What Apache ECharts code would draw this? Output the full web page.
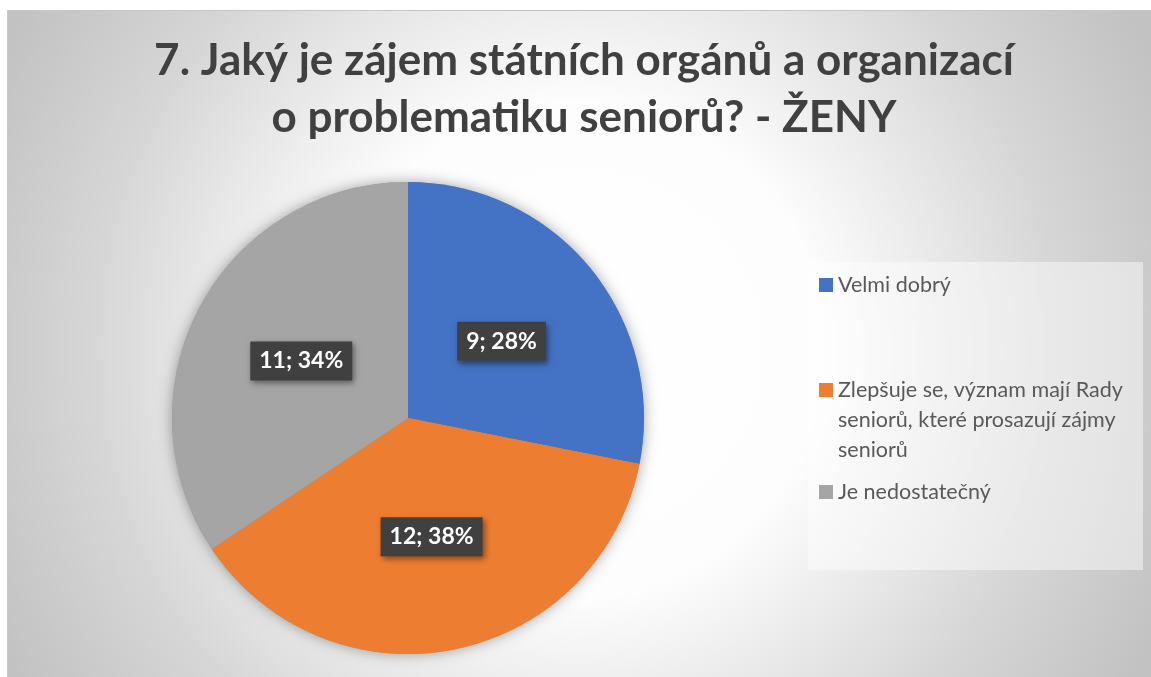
<!DOCTYPE html>
<html>
<head>
<meta charset="utf-8">
<script src="https://cdn.jsdelivr.net/npm/echarts@6/dist/echarts.min.js"></script>
<style>
  html, body { margin: 0; padding: 0; background: #ffffff; }
  #chart { width: 1151px; height: 677px; }
</style>
</head>
<body>
<div id="chart"></div>
<script>
// Survey answers (women): question 7
const categories = [
  'Velmi dobrý',
  'Zlepšuje se, význam mají Rady seniorů, které prosazují zájmy seniorů',
  'Je nedostatečný'
];
const counts = [9, 12, 11];
// Two leading blank lines keep the icon level with the first text line
const legendLabels = [
  'Velmi dobrý',
  '\n\nZlepšuje se, význam mají Rady\nseniorů, které prosazují zájmy\nseniorů',
  'Je nedostatečný'
];
const colors = ['#4472C4', '#ED7D31', '#A5A5A5'];
const titleText = '7. Jaký je zájem státních orgánů a organizací\no problematiku seniorů? - ŽENY';

const FONT = 'Lato, "Open Sans", sans-serif';
const pieData = categories.map((name, i) => ({ name, value: counts[i], itemStyle: { color: colors[i] } }));

const legendTops = [270, 315, 477];
const legends = categories.map((name, i) => ({
  data: [name],
  orient: 'vertical',
  left: 819,
  top: legendTops[i],
  padding: 0,
  icon: 'rect',
  itemWidth: 14,
  itemHeight: 14,
  selectedMode: false,
  formatter: () => legendLabels[i],
  textStyle: {
    fontFamily: FONT,
    fontSize: 21.5,
    color: '#595959',
    lineHeight: 30
  }
}));

const chart = echarts.init(document.getElementById('chart'), null, { renderer: 'canvas' });
chart.setOption({
  animation: false,
  backgroundColor: '#ffffff',
  graphic: [
    {
      type: 'rect',
      z: -10,
      silent: true,
      shape: { x: 7.5, y: 10.5, width: 1160, height: 680 },
      style: {
        fill: {
          type: 'radial', x: 0.49, y: 0.5, r: 0.95,
          colorStops: [
            { offset: 0, color: '#ffffff' },
            { offset: 0.38, color: '#fdfdfd' },
            { offset: 0.75, color: '#d6d6d6' },
            { offset: 1, color: '#c2c2c2' }
          ]
        },
        stroke: '#c6c6c6',
        lineWidth: 1
      }
    },
    {
      type: 'rect',
      z: -5,
      silent: true,
      shape: { x: 808, y: 262, width: 335, height: 308 },
      style: { fill: 'rgba(255,255,255,0.45)' }
    }
  ],
  title: {
    text: titleText,
    left: 584,
    top: 32,
    padding: 0,
    textAlign: 'center',
    textStyle: {
      fontFamily: FONT,
      fontWeight: 'bold',
      fontSize: 44,
      lineHeight: 57,
      color: '#404040'
    }
  },
  legend: legends,
  series: [
    {
      type: 'pie',
      name: 'ŽENY',
      center: [408, 418],
      radius: 236,
      startAngle: 90,
      clockwise: true,
      percentPrecision: 0,
      z: 3,
      silent: true,
      data: pieData,
      itemStyle: { borderWidth: 0 },
      labelLine: { show: false },
      label: {
        show: true,
        position: 'inside',
        formatter: '{c}; {d}%',
        fontFamily: FONT,
        fontWeight: 'bold',
        fontSize: 23,
        color: '#ffffff',
        backgroundColor: '#404040',
        padding: [8, 9, 8, 9],
        shadowColor: 'rgba(0,0,0,0.45)',
        shadowBlur: 6,
        shadowOffsetX: 2,
        shadowOffsetY: 3
      }
    },
    {
      // soft drop shadow underneath the whole pie
      type: 'pie',
      name: 'shadow',
      center: [408, 418],
      radius: 236,
      startAngle: 90,
      clockwise: true,
      z: 1,
      silent: true,
      data: counts.map((v, i) => ({ name: categories[i], value: v })),
      itemStyle: {
        color: '#9a9a9a',
        borderWidth: 0,
        shadowColor: 'rgba(0,0,0,0.35)',
        shadowBlur: 14
      },
      label: { show: false },
      labelLine: { show: false }
    }
  ]
});
</script>
</body>
</html>
